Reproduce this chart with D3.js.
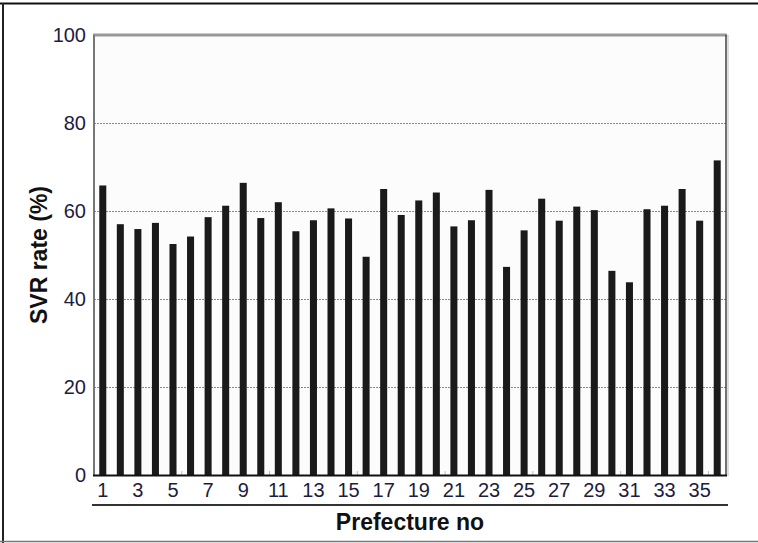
<!DOCTYPE html>
<html>
<head>
<meta charset="utf-8">
<script src="https://cdn.jsdelivr.net/npm/d3@7"></script>
<style>
  html, body { margin: 0; padding: 0; background: #fff; }
  svg { display: block; }
  text { font-family: Arial, "Liberation Sans", sans-serif; }
</style>
</head>
<body>
<svg id="chart" width="758" height="543"></svg>
<script>
// ---- data ----
const prefectures = d3.range(1, 37);
const svrRates = [65.8, 57.0, 55.9, 57.3, 52.5, 54.2, 58.6, 61.2, 66.4, 58.4,
                  62.0, 55.4, 57.9, 60.6, 58.3, 49.6, 65.0, 59.1, 62.4, 64.2,
                  56.5, 57.9, 64.8, 47.3, 55.6, 62.8, 57.8, 61.0, 60.2, 46.4,
                  43.8, 60.4, 61.2, 65.0, 57.8, 71.5];
const yTicks = [0, 20, 40, 60, 80, 100];
const xTickLabels = [1, 3, 5, 7, 9, 11, 13, 15, 17, 19, 21, 23, 25, 27, 29, 31, 33, 35];
const yTitle = "SVR rate (%)";
const xTitle = "Prefecture no";

(function () {
// ---- layout ----
const svg = d3.select("#chart");
const pL = 94, pR = 726, pT = 35, pB = 475;
const tickFont = "'Liberation Sans Narrow', 'Arial Narrow', Arial, sans-serif";

// outer frame
svg.append("line").attr("x1", 0).attr("x2", 758).attr("y1", 3.5).attr("y2", 3.5)
  .attr("stroke", "#111").attr("stroke-width", 2);
svg.append("line").attr("x1", 3).attr("x2", 3).attr("y1", 3).attr("y2", 543)
  .attr("stroke", "#222").attr("stroke-width", 2);
svg.append("line").attr("x1", 0).attr("x2", 758).attr("y1", 541.5).attr("y2", 541.5)
  .attr("stroke", "#777").attr("stroke-width", 1.5);

const x = d3.scaleBand().domain(prefectures).range([pL, pR]).paddingInner(0.6).paddingOuter(0.3);
const y = d3.scaleLinear().domain([0, 100]).range([pB, pT]);

// plot background
svg.append("rect").attr("x", pL).attr("y", pT).attr("width", pR - pL).attr("height", pB - pT)
  .attr("fill", "#fcfcfc");

// gridlines
svg.append("g").selectAll("line").data(yTicks.filter(d => d > 0 && d < 100)).join("line")
  .attr("x1", pL).attr("x2", pR)
  .attr("y1", d => y(d) + 0.5).attr("y2", d => y(d) + 0.5)
  .attr("stroke", "#888").attr("stroke-width", 1).attr("stroke-dasharray", "2,1");

// bars
svg.append("g").selectAll("rect").data(svrRates).join("rect")
  .attr("x", (d, i) => x(prefectures[i]))
  .attr("y", d => y(d))
  .attr("width", x.bandwidth())
  .attr("height", d => y(0) - y(d))
  .attr("fill", "#1a1a1a");

// plot frame
svg.append("line").attr("x1", pL - 1).attr("x2", pR + 1).attr("y1", pT).attr("y2", pT)
  .attr("stroke", "#999").attr("stroke-width", 3);
svg.append("line").attr("x1", pL).attr("x2", pL).attr("y1", pT).attr("y2", pB + 1)
  .attr("stroke", "#777").attr("stroke-width", 2);
svg.append("line").attr("x1", pR).attr("x2", pR).attr("y1", pT).attr("y2", pB + 1)
  .attr("stroke", "#444").attr("stroke-width", 1.5);
svg.append("line").attr("x1", pR + 2).attr("x2", pR + 2).attr("y1", pT).attr("y2", pB + 1)
  .attr("stroke", "#ddd").attr("stroke-width", 2);

// minor ticks every 5 bands
const step = x.step();
svg.append("g").selectAll("line").data([5, 10, 15, 20, 25, 30, 35]).join("line")
  .attr("x1", d => x(prefectures[d]) - step * 0.3)
  .attr("x2", d => x(prefectures[d]) - step * 0.3)
  .attr("y1", pB - 4).attr("y2", pB)
  .attr("stroke", "#bbb").attr("stroke-width", 1);

// x axis line
svg.append("line").attr("x1", pL - 1).attr("x2", pR + 1).attr("y1", pB + 0.5).attr("y2", pB + 0.5)
  .attr("stroke", "#111").attr("stroke-width", 2);

// y axis labels
const yAxis = d3.axisLeft(y).tickValues(yTicks).tickSize(0).tickPadding(8);
const gy = svg.append("g").attr("transform", `translate(${pL},0)`).call(yAxis);
gy.select(".domain").remove();
gy.attr("font-family", tickFont).attr("font-size", 20);
gy.selectAll("text").attr("fill", "#1c1c40");

// x axis labels
const xAxis = d3.axisBottom(x).tickValues(xTickLabels).tickSize(0).tickPadding(8);
const gx = svg.append("g").attr("transform", `translate(0,${pB})`).call(xAxis);
gx.select(".domain").remove();
gx.attr("font-family", tickFont).attr("font-size", 20);
gx.selectAll("text").attr("fill", "#1c1c40");

// line under x labels
svg.append("line").attr("x1", 92).attr("x2", 728).attr("y1", 505).attr("y2", 505)
  .attr("stroke", "#333").attr("stroke-width", 2);

// titles
svg.append("text").attr("x", (pL + pR) / 2).attr("y", 530)
  .attr("text-anchor", "middle").attr("font-size", 23).attr("font-weight", "bold")
  .attr("fill", "#111").text(xTitle);
svg.append("text").attr("transform", `translate(47,${(pT + pB) / 2}) rotate(-90)`)
  .attr("text-anchor", "middle").attr("font-size", 23).attr("font-weight", "bold")
  .attr("fill", "#111").text(yTitle);
})();
</script>
</body>
</html>
